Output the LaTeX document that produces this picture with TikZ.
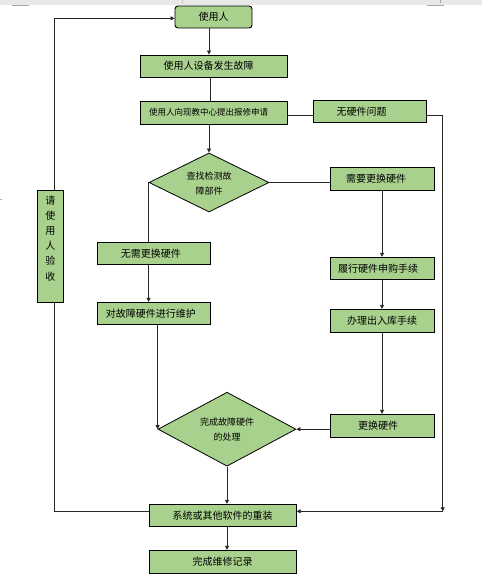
\documentclass[tikz,border=0pt]{standalone}
\usepackage{fontspec}
\newfontfamily\cjk{Noto Sans CJK SC}
\usetikzlibrary{arrows.meta,shapes.geometric}
\definecolor{boxgreen}{HTML}{A9D18E}
\newcommand\shiftl[2]{\hspace*{-#1pt}#2}
\begin{document}
\begin{tikzpicture}[x=1pt,y=-1pt,
  box/.style={draw=black, line width=0.9pt, fill=boxgreen, inner sep=0pt,
    font=\cjk\fontsize{10}{12}\selectfont},
  dia/.style={draw=black, line width=0.8pt, fill=boxgreen, shape=diamond, inner sep=0pt},
  arr/.style={-{Triangle[length=4pt,width=4pt]}},
  conn/.style={draw=black!85, line width=0.8pt},
  txt/.style={font=\cjk\fontsize{9}{15}\selectfont, align=center}]
\useasboundingbox (0,0) rectangle (482,577);
% page artifacts
\fill[black!9] (0,0) rectangle (482,5);
\draw[black!35, line width=0.7pt] (12,5.3) -- (29,5.3);
\draw[black!35, line width=0.7pt] (427,5.3) -- (444,5.3);
\draw[black!35, line width=0.7pt] (440.7,0) -- (440.7,3);
\draw[black!25, line width=0.7pt] (182.5,0) -- (182.5,3);
\draw[black!30, line width=0.6pt] (0,199) -- (2,199);

% nodes
\node[box, rounded corners=3pt, minimum width=77pt, minimum height=22pt] (user) at (213.5,17) {使用人};
\node[box, minimum width=147pt, minimum height=22pt] (fault) at (213.5,66) {\shiftl{10}{使用人设备发生故障}};
\node[box, minimum width=147pt, minimum height=23pt, font=\cjk\fontsize{8.5}{10}\selectfont] (report) at (213.5,112.5) {\shiftl{10}{使用人向现教中心提出报修申请}};
\node[box, minimum width=113pt, minimum height=22pt] (nohw) at (369.5,111.3) {\shiftl{16}{无硬件问题}};
\node[dia, minimum width=120pt, minimum height=59pt,
  label={[txt, yshift=-1.5pt]center:查找检测故\\障部件}] (find) at (209,182.5) {};
\node[box, minimum width=104pt, minimum height=23pt] (needhw) at (382,178.5) {\shiftl{12}{需要更换硬件}};
\node[box, minimum width=113pt, minimum height=22pt] (noneed) at (153.8,253.3) {\shiftl{6}{无需更换硬件}};
\node[box, minimum width=113pt, minimum height=22pt] (maint) at (153.8,313.3) {\shiftl{6}{对故障硬件进行维护}};
\node[box, minimum width=104pt, minimum height=22pt] (buy) at (382,268.3) {\shiftl{8}{履行硬件申购手续}};
\node[box, minimum width=104pt, minimum height=23pt] (stock) at (382,320.8) {办理出入库手续};
\node[box, minimum width=104pt, minimum height=23pt] (replace) at (382,425.8) {\shiftl{8}{更换硬件}};
\node[dia, minimum width=138pt, minimum height=74pt,
  label={[txt, yshift=0pt]center:完成故障硬件\\的处理}] (done) at (227,429.2) {};
\node[box, minimum width=147pt, minimum height=22pt] (reinst) at (222.7,515.3) {系统或其他软件的重装};
\node[box, minimum width=147pt, minimum height=23pt] (record) at (222.7,561.8) {完成维修记录};

\coordinate (r1) at (442.7,115.3);
\coordinate (r2) at (442.7,511.3);
\coordinate (l1) at (54.3,511.3);
\coordinate (l2) at (54.3,18.3);

\node[box, minimum width=26pt, minimum height=111.6pt] (accept) at (50.3,246.5) {};
\node[txt, font=\cjk\fontsize{10}{15.1}\selectfont] (accepttxt) at (50.3,238.5) {请\\使\\用\\人\\验\\收};

% connectors
\draw[conn, arr] (user.south -| find.north) -- (fault.north -| find.north);
\draw[conn] ([xshift=1pt]fault.south -| find.north) -- ([xshift=1pt]report.north -| find.north);
\draw[conn, arr] (report.south -| find.north) -- (find.north);
\draw[conn] (report.east |- r1) -- (nohw.west |- r1);
\draw[conn, arr] (nohw.east |- r1) -- (r1) -- (r2);
\draw[conn, arr] (r2) -- (reinst.east |- r2);
\draw[conn] (reinst.west |- l1) -| (accept.south -| l1);
\draw[conn, arr] (accept.north -| l1) |- (user.west |- l2);
\draw[conn] (find.east) -- (needhw.west |- find.east);
\draw[conn] (find.west) -- (noneed.north -| find.west);
\draw[conn, arr] (noneed.south -| find.west) -- (maint.north -| find.west);
\draw[conn, arr] (maint.south -| done.west) -- (done.west);
\draw[conn, arr] (needhw.south) -- (buy.north);
\draw[conn, arr] (buy.south) -- (stock.north);
\draw[conn, arr] (stock.south) -- (replace.north);
\draw[conn, arr] (replace.west |- done.east) -- (done.east);
\draw[conn, arr] (done.south) -- (reinst.north -| done.south);
\draw[conn, arr] (reinst.south -| done.south) -- (record.north -| done.south);
\end{tikzpicture}
\end{document}
